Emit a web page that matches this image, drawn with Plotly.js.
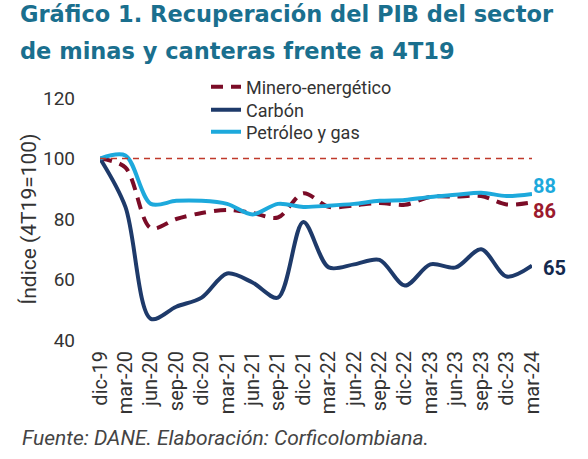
<!DOCTYPE html>
<html>
<head>
<meta charset="utf-8">
<script src="https://cdn.plot.ly/plotly-3.0.1.min.js"></script>
<style>html,body{margin:0;padding:0;background:#fff;} #chart{width:588px;height:459px;}</style>
</head>
<body>
<div id="chart"></div>
<script>
const quarters = ["dic-19","mar-20","jun-20","sep-20","dic-20","mar-21","jun-21","sep-21","dic-21","mar-22","jun-22","sep-22","dic-22","mar-23","jun-23","sep-23","dic-23","mar-24"];
const minero = [100, 97, 77, 80, 82, 83, 82, 80.5, 88.5, 84, 84.5, 85.3, 84.7, 87.3, 87.4, 87.6, 84.8, 85.5];
const carbon = [100, 84, 47, 51, 54, 62, 59, 54, 79, 64, 65, 66.5, 58, 65, 64, 70, 61, 64.6];
const petroleo = [100, 101, 85, 86, 86, 85, 81.5, 85, 84, 84.4, 85, 86, 86.3, 87.3, 88, 88.7, 87.6, 88.3];
const baseLevel = 100;
const endLabels = ["86", "65", "88"];

const cMinero = "#7b0c27", cCarbon = "#1e3a6a", cPetro = "#1da9dc";
const ff = "Roboto, 'Liberation Sans', sans-serif";
const tf = "'DejaVu Sans', sans-serif";

const traces = [
  {x: quarters, y: minero, name: "Minero-energético", mode: "lines", legend: "legend",
   line: {color: cMinero, width: 4, dash: "12px,8px", shape: "spline", smoothing: 0.9}},
  {x: quarters, y: carbon, name: "Carbón", mode: "lines", legend: "legend2",
   line: {color: cCarbon, width: 4, shape: "spline", smoothing: 0.9}},
  {x: quarters, y: petroleo, name: "Petróleo y gas", mode: "lines", legend: "legend3",
   line: {color: cPetro, width: 4, shape: "spline", smoothing: 0.9}}
];

const py = (px) => 1 + (98 - px) / 242;   // pixel row -> paper y
const legBase = {x: (206 - 100) / 432, xanchor: "left", yanchor: "middle", bgcolor: "rgba(0,0,0,0)",
  font: {family: ff, size: 18, color: "#333"}, itemwidth: 30};

const last = quarters[quarters.length - 1];
const layout = {
  width: 588, height: 459,
  margin: {l: 100, r: 56, t: 98, b: 119},
  paper_bgcolor: "#fff", plot_bgcolor: "#fff",
  font: {family: ff, color: "#333", size: 18},
  title: {text: "Gráfico 1. Recuperación del PIB del sector", x: 0, xref: "container", xanchor: "left",
    y: 1, yref: "container", yanchor: "top", pad: {t: 6, l: 20},
    font: {family: tf, size: 22.5, color: "#1a6f8e", weight: 700}},
  showlegend: true,
  legend: Object.assign({}, legBase, {y: py(87)}),
  legend2: Object.assign({}, legBase, {y: py(110)}),
  legend3: Object.assign({}, legBase, {y: py(132)}),
  xaxis: {type: "category", range: [0, quarters.length - 1], showgrid: false, zeroline: false,
    showline: false, ticks: "", tickangle: -90, ticklabelstandoff: 6, tickfont: {family: ff, size: 20, color: "#333"}},
  yaxis: {range: [40, 120], dtick: 20, showgrid: false, zeroline: false, showline: false, ticks: "",
    ticklabelstandoff: 24, tickfont: {family: ff, size: 19, color: "#333"},
    title: {text: "Índice (4T19=100)", standoff: 0, font: {family: ff, size: 21, color: "#333"}}},
  shapes: [{type: "line", xref: "x", yref: "y", x0: quarters[0], x1: last, y0: baseLevel, y1: baseLevel,
    line: {color: "#c0392b", width: 1.5, dash: "6px,5px"}}],
  annotations: [
    {text: "de minas y canteras frente a 4T19", xref: "paper", yref: "paper", x: -82/432, y: py(51),
     xanchor: "left", yanchor: "middle", showarrow: false,
     font: {family: tf, size: 22.5, color: "#1a6f8e", weight: 700}},
    {text: endLabels[2], x: last, y: petroleo[17], xanchor: "left", yanchor: "middle", xshift: -1, yshift: 8, showarrow: false,
     font: {family: ff, size: 20, color: cPetro, weight: 700}},
    {text: endLabels[0], x: last, y: minero[17], xanchor: "left", yanchor: "middle", xshift: -1, yshift: -9, showarrow: false,
     font: {family: ff, size: 20, color: "#9b1a2e", weight: 700}},
    {text: endLabels[1], x: last, y: carbon[17], xanchor: "left", yanchor: "middle", xshift: 9, yshift: -2, showarrow: false,
     font: {family: ff, size: 20, color: "#13294e", weight: 700}},
    {text: "<i>Fuente: DANE. Elaboración: Corficolombiana.</i>", xref: "paper", yref: "paper",
     x: -80/432, y: py(438), xanchor: "left", yanchor: "middle", showarrow: false,
     font: {family: ff, size: 21, color: "#444"}}
  ]
};

Plotly.newPlot("chart", traces, layout, {displayModeBar: false, staticPlot: true});
</script>
</body>
</html>
